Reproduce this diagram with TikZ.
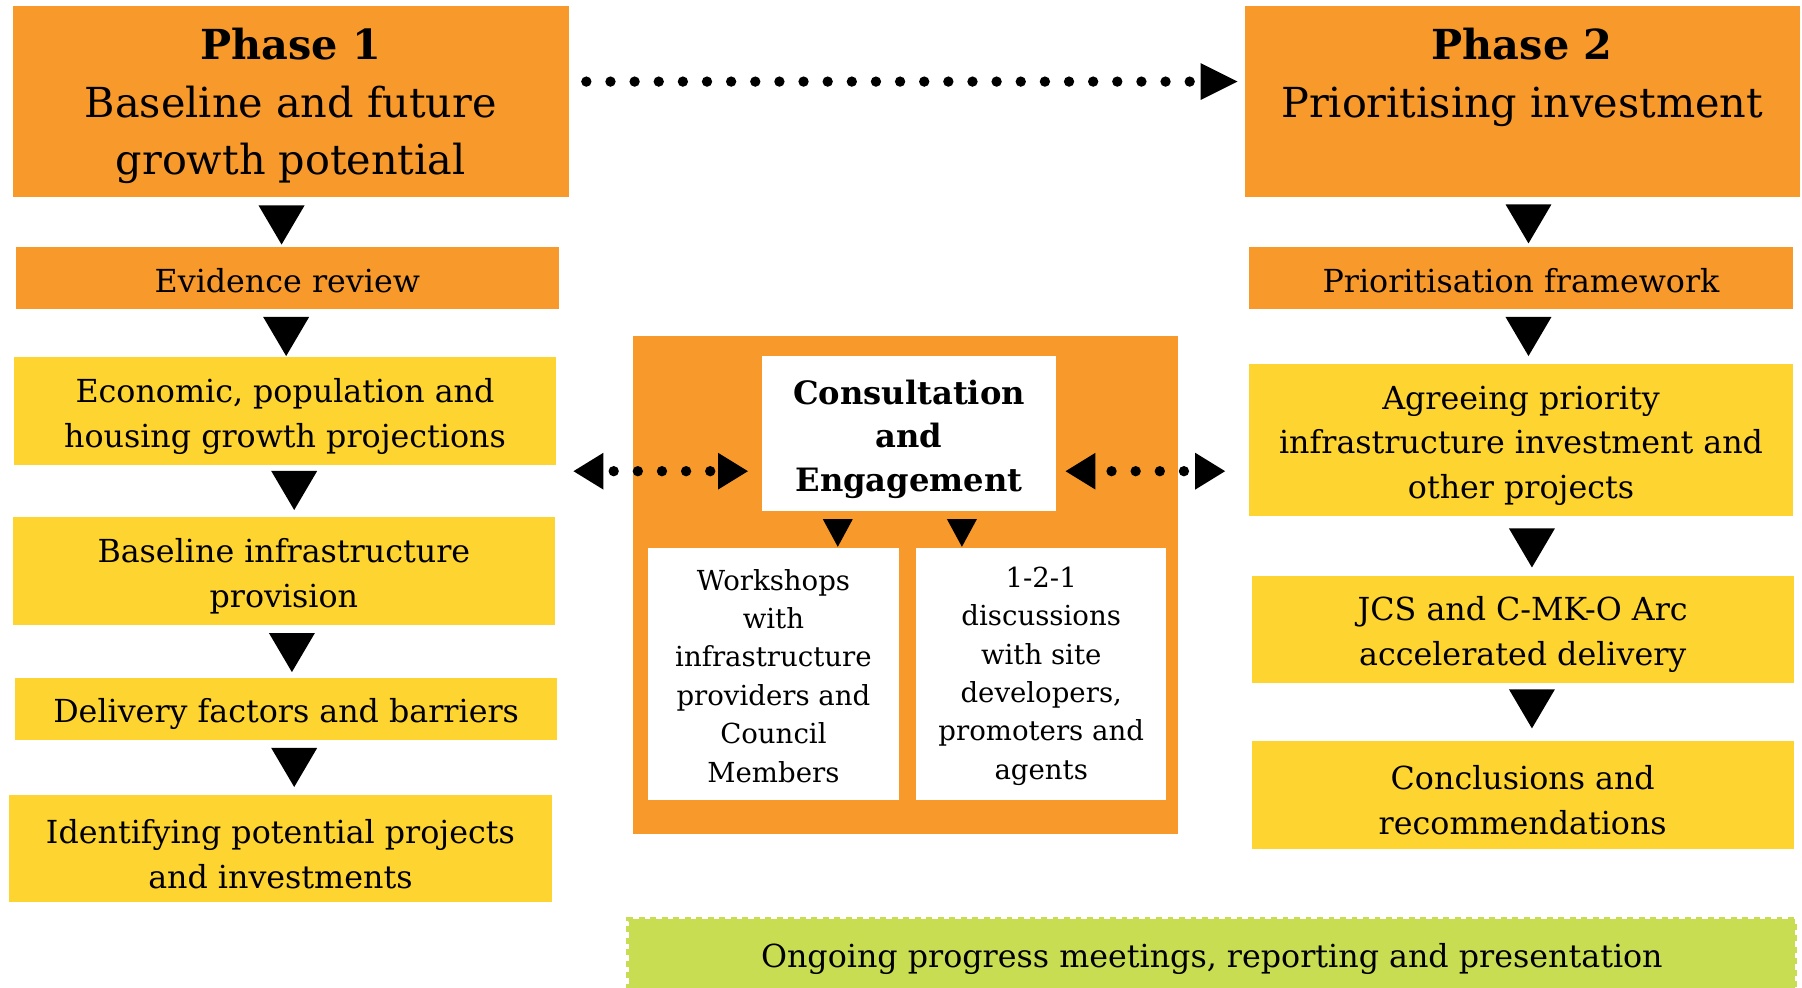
\documentclass[tikz,border=0pt]{standalone}
\usepackage{fontspec}
\setmainfont{DejaVu Serif}
\usetikzlibrary{arrows.meta}

\definecolor{phaseorange}{RGB}{247,153,43}
\definecolor{stepyellow}{RGB}{254,212,49}
\definecolor{meetgreen}{RGB}{201,221,82}

% raise the first line a little, so the text sits lower in its box
\newcommand{\lift}[1][10pt]{\rule{0pt}{\dimexpr\fontcharht\font`d+#1\relax}}

\tikzset{
  phasebox/.style={fill=phaseorange, align=center, inner sep=0pt,
    minimum width=484pt, minimum height=166pt, font=\fontsize{36}{50}\selectfont},
  taskbox/.style={fill=phaseorange, align=center, inner sep=0pt,
    minimum width=472pt, minimum height=54pt, font=\fontsize{27.6}{39}\selectfont},
  stepbox/.style={fill=stepyellow, align=center, inner sep=0pt,
    minimum width=472pt, minimum height=94pt, font=\fontsize{27.6}{39}\selectfont},
  talkbox/.style={fill=white, align=center, inner sep=0pt,
    minimum width=218pt, minimum height=219pt, font=\fontsize{24}{33.4}\selectfont},
  downtri/.style={draw=white, line width=0.4pt,
    -{Triangle[length=34pt,width=40pt,line width=0pt,color=black,fill=black]}},
  smalltri/.style={draw=phaseorange, line width=0.4pt,
    -{Triangle[length=24pt,width=26pt,line width=0pt,color=black,fill=black]}},
  dotlink/.style={line width=9pt, line cap=round, dash pattern=on 0pt off 21pt}
}

\begin{document}
\begin{tikzpicture}[x=1pt, y=-1pt]
\clip (0,0) rectangle (1568,859);
% phase 1
\node[phasebox] (p1) at (253,88) {\lift\textbf{Phase 1}\\Baseline and future\\growth potential};
\node[taskbox] (ev) at (250,242) {\lift[6pt]Evidence review};
\node[stepbox] (eco) at (248,358) {\lift Economic, population and\\housing growth projections};
\node[stepbox] (bi) at (247,497) {\lift Baseline infrastructure\\provision};
\node[stepbox, minimum height=54pt] (df) at (249,617) {\lift Delivery factors and barriers};
\node[stepbox, minimum height=93pt] (ip) at (244,738.5) {\lift Identifying potential projects\\and investments};

% phase 2
\node[phasebox, minimum width=483pt] (p2) at (1324.5,88) {\lift\textbf{Phase 2}\\Prioritising investment\\\vphantom{g}};
\node[taskbox, minimum width=473pt] (pf) at (1323.5,242) {\lift[6pt]Prioritisation framework};
\node[stepbox, minimum width=473pt, minimum height=132pt] (ag) at (1323.5,383) {\lift Agreeing priority\\infrastructure investment and\\other projects};
\node[stepbox, minimum height=93pt] (jcs) at (1325,547.5) {\lift JCS and C-MK-O Arc\\accelerated delivery};
\node[stepbox] (cr) at (1325,692) {\lift Conclusions and\\recommendations};

% consultation
\node[fill=phaseorange, minimum width=474pt, minimum height=434pt] (cons) at (788,509) {};
\node[fill=white, align=center, inner sep=0pt, minimum width=256pt, minimum height=135pt,
  font=\fontsize{28}{38}\selectfont\bfseries] (ce) at (791,377.5) {\lift Consultation\\and\\Engagement};
\node[talkbox] (ws) at (673,586.5) {\lift[4pt]Workshops\\with\\infrastructure\\providers and\\Council\\Members};
\node[talkbox] (od) at (906,586.5) {\lift[4pt]1-2-1\\discussions\\with site\\developers,\\promoters and\\agents};

% ongoing work
\node[fill=meetgreen, draw=meetgreen, line width=4pt, dash pattern=on 5pt off 5pt,
  inner sep=0pt, minimum width=1015pt, minimum height=64pt,
  font=\fontsize{27.6}{39}\selectfont] (og) at (1054.5,832) {\lift[6pt]Ongoing progress meetings, reporting and presentation};

% flow
\draw[downtri, shorten >=2pt] ([xshift=-8pt]p1.south) -- ([xshift=-8pt]p1.south |- ev.north);
\draw[downtri, shorten >=1pt] ([xshift=-1pt]ev.south) -- ([xshift=-1pt]ev.south |- eco.north);
\draw[downtri, shorten >=6pt] ([xshift=8pt]eco.south) -- ([xshift=8pt]eco.south |- bi.north);
\draw[downtri, shorten >=5pt] ([xshift=7pt]bi.south) -- ([xshift=7pt]bi.south |- df.north);
\draw[downtri, shorten >=7pt] ([xshift=7pt]df.south) -- ([xshift=7pt]df.south |- ip.north);
\draw[downtri, shorten >=3pt] ([xshift=5.5pt]p2.south) -- ([xshift=5.5pt]p2.south |- pf.north);
\draw[downtri, shorten >=7pt] ([xshift=6.5pt]pf.south) -- ([xshift=6.5pt]pf.south |- ag.north);
\draw[downtri, shorten >=7pt] ([xshift=9.5pt]ag.south) -- ([xshift=9.5pt]ag.south |- jcs.north);
\draw[downtri, shorten >=11pt] ([xshift=8pt]jcs.south) -- ([xshift=8pt]jcs.south |- cr.north);
\draw[smalltri, shorten >=1pt] ([xshift=-62pt]ce.south) -- ([xshift=-62pt]ce.south |- ws.north);
\draw[smalltri, shorten >=1pt] ([xshift=46pt]ce.south) -- ([xshift=46pt]ce.south |- od.north);

% dotted links
\coordinate (lend) at (499,410);
\coordinate (rend) at (1066,410);
\draw[dotlink, -{Triangle[length=32pt,width=32pt,line width=0pt]}]
  ([xshift=15pt,yshift=17pt]p1.east) -- ([xshift=-6pt,yshift=17pt]p2.west);
\draw[dotlink, dash phase=12pt, {Triangle[length=26pt,width=32pt,line width=0pt]}-{Triangle[length=26pt,width=32pt,line width=0pt]}]
  (lend) -- ([xshift=-12pt]ce.west |- lend);
\draw[dotlink, dash phase=7pt, {Triangle[length=26pt,width=32pt,line width=0pt]}-{Triangle[length=26pt,width=32pt,line width=0pt]}]
  ([xshift=8pt]ce.east |- rend) -- (rend);
\end{tikzpicture}
\end{document}
